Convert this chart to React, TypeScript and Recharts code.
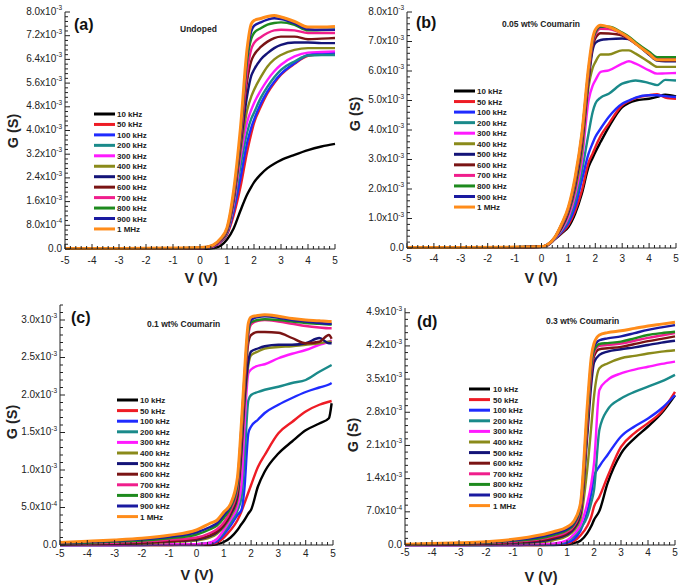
import React from 'react';
import { LineChart, Line, XAxis, YAxis } from 'recharts';

// ---------- shared ----------
const seriesNames = ['10 kHz', '50 kHz', '100 kHz', '200 kHz', '300 kHz', '400 kHz', '500 kHz', '600 kHz', '700 kHz', '800 kHz', '900 kHz', '1 MHz'];
const seriesColors = ['#000000', '#ee1c25', '#1f2bff', '#1a8a8a', '#ff1aff', '#8a8a1a', '#141478', '#7a1414', '#f01e8c', '#1e8a1e', '#1a1aa0', '#ff8c1a'];
const xMajorTicks = [-5, -4, -3, -2, -1, 0, 1, 2, 3, 4, 5];
const xTickLabels = ['-5', '-4', '-3', '-2', '-1', '0', '1', '2', '3', '4', '5'];

// ---------- panel (a) Undoped, G in mS ----------
const voltsA = [-5, -3, -1, 0, 0.25, 0.5, 0.75, 1, 1.25, 1.5, 1.75, 1.9, 2, 2.25, 2.5, 2.75, 3, 3.5, 4, 4.5, 5];
const condA = [
  [0.01, 0.01, 0.01, 0.01, 0.01, 0.03, 0.1, 0.32, 0.7, 1.3, 1.85, 2.1, 2.25, 2.52, 2.73, 2.88, 3.0, 3.18, 3.34, 3.46, 3.55],
  [0.01, 0.01, 0.02, 0.03, 0.04, 0.08, 0.22, 0.48, 1.15, 2.1, 3.3, 3.9, 4.25, 4.8, 5.26, 5.6, 5.88, 6.25, 6.52, 6.58, 6.61],
  [0.01, 0.01, 0.02, 0.03, 0.04, 0.09, 0.24, 0.52, 1.3, 2.4, 3.6, 4.1, 4.36, 4.9, 5.32, 5.65, 5.91, 6.27, 6.55, 6.6, 6.63],
  [0.01, 0.01, 0.02, 0.03, 0.05, 0.1, 0.25, 0.55, 1.45, 2.8, 3.95, 4.4, 4.6, 5.1, 5.48, 5.8, 6.05, 6.33, 6.53, 6.55, 6.55],
  [0.01, 0.01, 0.02, 0.03, 0.05, 0.1, 0.26, 0.57, 1.55, 3.1, 4.3, 4.7, 4.92, 5.35, 5.71, 6.0, 6.22, 6.5, 6.63, 6.65, 6.67],
  [0.01, 0.01, 0.02, 0.03, 0.05, 0.11, 0.27, 0.59, 1.65, 3.3, 4.7, 5.15, 5.37, 5.8, 6.16, 6.4, 6.55, 6.72, 6.78, 6.78, 6.78],
  [0.01, 0.01, 0.02, 0.03, 0.05, 0.11, 0.28, 0.61, 1.7, 3.5, 5.2, 5.85, 6.05, 6.4, 6.61, 6.78, 6.89, 6.97, 6.97, 6.95, 6.95],
  [0.01, 0.01, 0.02, 0.03, 0.06, 0.12, 0.29, 0.63, 1.75, 3.6, 5.7, 6.35, 6.55, 6.82, 7.0, 7.12, 7.17, 7.17, 7.08, 7.1, 7.12],
  [0.01, 0.01, 0.02, 0.03, 0.06, 0.12, 0.3, 0.65, 1.8, 3.7, 6.0, 6.75, 6.95, 7.15, 7.29, 7.38, 7.4, 7.38, 7.29, 7.29, 7.29],
  [0.01, 0.01, 0.02, 0.04, 0.06, 0.13, 0.31, 0.67, 1.85, 3.8, 6.4, 7.1, 7.29, 7.45, 7.57, 7.63, 7.65, 7.57, 7.38, 7.39, 7.4],
  [0.01, 0.01, 0.02, 0.04, 0.07, 0.13, 0.32, 0.69, 1.9, 3.9, 6.6, 7.35, 7.53, 7.65, 7.74, 7.79, 7.76, 7.62, 7.42, 7.4, 7.4],
  [0.02, 0.02, 0.03, 0.05, 0.07, 0.14, 0.34, 0.72, 2.0, 4.1, 6.8, 7.6, 7.71, 7.78, 7.85, 7.88, 7.83, 7.68, 7.49, 7.49, 7.51],
];
const yTicksA = [0, 0.8, 1.6, 2.4, 3.2, 4.0, 4.8, 5.6, 6.4, 7.2, 8.0];
const yLabelsA = ['0.0', '8.0x10^-4', '1.6x10^-3', '2.4x10^-3', '3.2x10^-3', '4.0x10^-3', '4.8x10^-3', '5.6x10^-3', '6.4x10^-3', '7.2x10^-3', '8.0x10^-3'];

// ---------- panel (b) 0.05 wt% Coumarin ----------
const voltsB = [-5, -3, -1, 0, 0.2, 0.5, 0.75, 1, 1.25, 1.5, 1.75, 1.9, 2, 2.2, 2.5, 3, 3.25, 3.5, 4, 4.3, 4.6, 5];
const condB = [
  [0.01, 0.01, 0.02, 0.04, 0.08, 0.3, 0.5, 0.71, 1.16, 1.84, 2.75, 3.05, 3.25, 3.6, 4.1, 4.78, 4.92, 5.0, 5.06, 5.12, 5.2, 5.14],
  [0.01, 0.01, 0.02, 0.04, 0.08, 0.31, 0.52, 0.78, 1.25, 1.95, 2.9, 3.2, 3.42, 3.8, 4.21, 4.84, 4.98, 5.08, 5.18, 5.21, 5.1, 5.06],
  [0.01, 0.01, 0.02, 0.04, 0.08, 0.32, 0.55, 0.85, 1.4, 2.3, 3.2, 3.55, 3.76, 4.05, 4.44, 4.89, 5.0, 5.1, 5.18, 5.18, 5.15, 5.12],
  [0.01, 0.01, 0.02, 0.04, 0.09, 0.33, 0.58, 0.95, 1.6, 2.6, 3.88, 4.6, 4.89, 5.1, 5.23, 5.57, 5.64, 5.68, 5.59, 5.52, 5.7, 5.68],
  [0.01, 0.01, 0.02, 0.04, 0.09, 0.34, 0.62, 1.05, 1.8, 2.95, 5.0, 5.5, 5.68, 5.97, 6.02, 6.25, 6.33, 6.25, 6.02, 5.91, 5.92, 5.93],
  [0.01, 0.01, 0.02, 0.04, 0.09, 0.35, 0.66, 1.15, 1.95, 3.2, 5.46, 6.1, 6.3, 6.56, 6.56, 6.7, 6.7, 6.59, 6.3, 6.14, 6.14, 6.14],
  [0.01, 0.01, 0.02, 0.05, 0.1, 0.35, 0.7, 1.22, 2.1, 3.5, 5.7, 6.7, 6.95, 7.05, 7.08, 7.1, 7.08, 6.93, 6.55, 6.35, 6.33, 6.33],
  [0.01, 0.01, 0.02, 0.05, 0.1, 0.36, 0.74, 1.28, 2.2, 3.6, 5.8, 6.85, 7.1, 7.28, 7.27, 7.2, 7.08, 6.92, 6.58, 6.38, 6.36, 6.36],
  [0.01, 0.01, 0.02, 0.05, 0.1, 0.36, 0.77, 1.3, 2.25, 3.7, 5.9, 6.95, 7.22, 7.43, 7.42, 7.25, 7.1, 6.93, 6.6, 6.4, 6.4, 6.4],
  [0.02, 0.02, 0.03, 0.05, 0.1, 0.37, 0.8, 1.34, 2.3, 3.8, 6.0, 7.0, 7.3, 7.5, 7.5, 7.3, 7.16, 6.98, 6.65, 6.47, 6.47, 6.47],
  [0.02, 0.02, 0.03, 0.05, 0.1, 0.37, 0.81, 1.36, 2.35, 3.85, 6.05, 7.02, 7.35, 7.52, 7.48, 7.27, 7.12, 6.93, 6.6, 6.4, 6.4, 6.4],
  [0.02, 0.02, 0.03, 0.05, 0.1, 0.37, 0.82, 1.39, 2.4, 3.88, 6.14, 7.1, 7.4, 7.55, 7.49, 7.27, 7.12, 6.93, 6.59, 6.38, 6.38, 6.38],
];
const yTicksB = [0, 1, 2, 3, 4, 5, 6, 7, 8];
const yLabelsB = ['0.0', '1.0x10^-3', '2.0x10^-3', '3.0x10^-3', '4.0x10^-3', '5.0x10^-3', '6.0x10^-3', '7.0x10^-3', '8.0x10^-3'];

// ---------- panel (c) 0.1 wt% Coumarin ----------
const voltsC = [-5, -4, -3, -2, -1, 0, 0.5, 0.75, 1, 1.25, 1.5, 1.65, 1.75, 1.9, 2, 2.25, 2.5, 3, 3.5, 4, 4.5, 4.85, 4.95];
const condC = [
  [0, 0, 0, 0, 0, 0, 0, 0.01, 0.04, 0.1, 0.2, 0.28, 0.33, 0.42, 0.47, 0.78, 0.98, 1.22, 1.38, 1.53, 1.62, 1.69, 1.89],
  [0, 0, 0, 0, 0, 0.01, 0.01, 0.03, 0.1, 0.2, 0.33, 0.45, 0.55, 0.7, 0.8, 1.04, 1.2, 1.49, 1.64, 1.78, 1.87, 1.91, 1.92],
  [0, 0, 0, 0, 0.01, 0.01, 0.02, 0.05, 0.14, 0.26, 0.4, 0.47, 0.73, 1.49, 1.58, 1.67, 1.76, 1.87, 1.96, 2.04, 2.1, 2.14, 2.16],
  [0, 0, 0, 0.01, 0.01, 0.01, 0.03, 0.07, 0.17, 0.3, 0.46, 0.64, 1.09, 1.93, 2.0, 2.04, 2.07, 2.11, 2.16, 2.2, 2.31, 2.38, 2.4],
  [0, 0, 0, 0.01, 0.01, 0.01, 0.03, 0.08, 0.2, 0.34, 0.52, 0.82, 1.53, 2.29, 2.34, 2.39, 2.41, 2.49, 2.55, 2.6, 2.67, 2.71, 2.73],
  [0.01, 0.01, 0.015, 0.02, 0.04, 0.06, 0.1, 0.15, 0.24, 0.38, 0.6, 1.2, 1.8, 2.4, 2.53, 2.58, 2.62, 2.64, 2.65, 2.67, 2.69, 2.71, 2.71],
  [0.01, 0.015, 0.02, 0.03, 0.05, 0.07, 0.12, 0.17, 0.26, 0.41, 0.65, 1.3, 1.9, 2.45, 2.58, 2.62, 2.65, 2.67, 2.67, 2.69, 2.76, 2.69, 2.69],
  [0.01, 0.015, 0.02, 0.03, 0.05, 0.08, 0.13, 0.18, 0.27, 0.43, 0.7, 1.4, 2.0, 2.7, 2.8, 2.84, 2.84, 2.83, 2.76, 2.69, 2.71, 2.8, 2.75],
  [0.015, 0.02, 0.03, 0.045, 0.07, 0.1, 0.16, 0.21, 0.3, 0.46, 0.75, 1.5, 2.1, 2.8, 2.94, 2.99, 3.0, 2.98, 2.95, 2.92, 2.9, 2.89, 2.89],
  [0.02, 0.03, 0.045, 0.06, 0.09, 0.14, 0.21, 0.26, 0.36, 0.5, 0.8, 1.55, 2.15, 2.85, 2.97, 3.0, 3.01, 3.0, 2.98, 2.96, 2.95, 2.94, 2.94],
  [0.03, 0.04, 0.055, 0.075, 0.11, 0.17, 0.24, 0.29, 0.4, 0.53, 0.85, 1.6, 2.2, 2.9, 3.0, 3.04, 3.05, 3.03, 3.0, 2.98, 2.96, 2.95, 2.95],
  [0.035, 0.05, 0.067, 0.09, 0.13, 0.2, 0.29, 0.33, 0.44, 0.55, 0.9, 1.65, 2.25, 2.96, 3.04, 3.06, 3.07, 3.05, 3.02, 3.0, 2.99, 2.98, 2.98],
];
const yTicksC = [0, 0.5, 1.0, 1.5, 2.0, 2.5, 3.0];
const yLabelsC = ['0.0', '5.0x10^-4', '1.0x10^-3', '1.5x10^-3', '2.0x10^-3', '2.5x10^-3', '3.0x10^-3'];

// ---------- panel (d) 0.3 wt% Coumarin ----------
const voltsD = [-5, -4, -3, -2, -1, 0, 0.5, 1, 1.25, 1.5, 1.75, 1.9, 2, 2.2, 2.5, 3, 3.5, 4, 4.5, 5];
const condD = [
  [0, 0, 0, 0, 0, 0, 0, 0.01, 0.04, 0.09, 0.25, 0.4, 0.53, 0.72, 1.3, 1.93, 2.25, 2.5, 2.78, 3.16],
  [0, 0, 0, 0, 0, 0, 0.01, 0.03, 0.08, 0.2, 0.4, 0.6, 0.81, 1.02, 1.44, 2.07, 2.36, 2.57, 2.81, 3.23],
  [0, 0, 0, 0, 0, 0.01, 0.01, 0.05, 0.12, 0.3, 0.7, 1.1, 1.44, 1.66, 1.9, 2.29, 2.5, 2.67, 2.88, 3.16],
  [0, 0, 0, 0, 0.01, 0.01, 0.02, 0.08, 0.18, 0.35, 0.6, 0.9, 1.16, 2.43, 2.85, 3.09, 3.23, 3.34, 3.45, 3.59],
  [0, 0, 0, 0.01, 0.01, 0.02, 0.03, 0.1, 0.22, 0.42, 0.88, 1.3, 1.72, 3.27, 3.48, 3.62, 3.7, 3.76, 3.82, 3.87],
  [0.005, 0.01, 0.01, 0.02, 0.04, 0.06, 0.1, 0.19, 0.3, 0.55, 1.6, 2.5, 3.13, 3.73, 3.83, 3.94, 3.99, 4.04, 4.08, 4.11],
  [0.01, 0.01, 0.02, 0.03, 0.05, 0.08, 0.13, 0.22, 0.34, 0.65, 2.3, 3.4, 3.85, 4.01, 4.08, 4.13, 4.17, 4.22, 4.27, 4.31],
  [0.01, 0.01, 0.02, 0.03, 0.06, 0.1, 0.15, 0.25, 0.37, 0.7, 2.45, 3.6, 3.98, 4.13, 4.15, 4.18, 4.24, 4.3, 4.35, 4.4],
  [0.01, 0.015, 0.025, 0.04, 0.07, 0.12, 0.18, 0.28, 0.4, 0.75, 2.55, 3.7, 4.05, 4.2, 4.22, 4.25, 4.31, 4.37, 4.42, 4.47],
  [0.01, 0.02, 0.03, 0.05, 0.09, 0.14, 0.21, 0.31, 0.43, 0.8, 2.65, 3.78, 4.1, 4.24, 4.26, 4.29, 4.36, 4.43, 4.47, 4.5],
  [0.01, 0.02, 0.035, 0.055, 0.1, 0.17, 0.24, 0.34, 0.46, 0.85, 2.8, 3.88, 4.18, 4.32, 4.36, 4.4, 4.47, 4.54, 4.59, 4.64],
  [0.014, 0.03, 0.045, 0.07, 0.12, 0.21, 0.28, 0.38, 0.5, 0.88, 2.92, 3.97, 4.25, 4.43, 4.48, 4.52, 4.57, 4.62, 4.66, 4.7],
];
const yTicksD = [0, 0.7, 1.4, 2.1, 2.8, 3.5, 4.2, 4.9];
const yLabelsD = ['0.0', '7.0x10^-4', '1.4x10^-3', '2.1x10^-3', '2.8x10^-3', '3.5x10^-3', '4.2x10^-3', '4.9x10^-3'];

const FONT = '"Liberation Sans", Arial, sans-serif';
const AX = 60; // chart-internal x of the plot's left edge
const TOPM = 10; // chart-internal y of the plot's top edge

type PanelCfg = {
  tag: string; subtitle: string;
  volts: number[]; cond: number[][]; yTicks: number[]; yLabels: string[]; yMax: number;
  plotLeft: number; plotTop: number; plotW: number; plotH: number; xLabelDy: number;
  tagX: number; tagY: number; subX: number; subY: number;
  gX: number; gY: number; vX: number; vY: number;
  legLineX: number; legTextX: number; legY0: number; legDy: number;
};

const panels: PanelCfg[] = [
  { tag: '(a)', subtitle: 'Undoped', volts: voltsA, cond: condA, yTicks: yTicksA, yLabels: yLabelsA, yMax: 8,
    plotLeft: 65, plotTop: 12, plotW: 270, plotH: 237, xLabelDy: 14.5,
    tagX: 74, tagY: 30, subX: 180, subY: 32, gX: 13, gY: 131, vX: 201, vY: 283,
    legLineX: 94, legTextX: 117, legY0: 114, legDy: 10.45 },
  { tag: '(b)', subtitle: '0.05 wt% Coumarin', volts: voltsB, cond: condB, yTicks: yTicksB, yLabels: yLabelsB, yMax: 8,
    plotLeft: 407, plotTop: 12, plotW: 269, plotH: 236, xLabelDy: 13.5,
    tagX: 416, tagY: 28, subX: 502, subY: 27, gX: 355, gY: 114, vX: 541, vY: 283,
    legLineX: 454, legTextX: 477, legY0: 91, legDy: 10.55 },
  { tag: '(c)', subtitle: '0.1 wt% Coumarin', volts: voltsC, cond: condC, yTicks: yTicksC, yLabels: yLabelsC, yMax: 3.2,
    plotLeft: 60, plotTop: 305, plotW: 273, plotH: 240, xLabelDy: 12,
    tagX: 71, tagY: 323, subX: 147, subY: 327, gX: 12, gY: 422, vX: 197, vY: 580,
    legLineX: 117, legTextX: 140, legY0: 400, legDy: 10.6 },
  { tag: '(d)', subtitle: '0.3 wt% Coumarin', volts: voltsD, cond: condD, yTicks: yTicksD, yLabels: yLabelsD, yMax: 5.0,
    plotLeft: 405, plotTop: 308, plotW: 270, plotH: 237, xLabelDy: 11,
    tagX: 417, tagY: 327, subX: 546, subY: 324, gX: 353, gY: 435, vX: 541, vY: 582,
    legLineX: 469, legTextX: 493, legY0: 389, legDy: 10.6 },
];

// tick positions (majors + minors)
const xTicksAll: number[] = [];
for (let i = 0; i <= 50; i++) xTicksAll.push(Math.round((-5 + i * 0.2) * 10) / 10);

const yTicksWithMinor = (majors: number[], yMax: number) => {
  const step = majors[1] - majors[0];
  const out: number[] = [];
  for (let v = 0; v <= yMax + 1e-9; v += step / 5) out.push(Math.round(v * 1e6) / 1e6);
  return out;
};

const findMajor = (v: number, majors: number[]) => majors.findIndex((m) => Math.abs(m - v) < 1e-6);

const makeYTick = (majors: number[], labels: string[]) => (props: any) => {
  const { y, payload } = props;
  const idx = findMajor(payload.value, majors);
  const major = idx >= 0;
  const label = major ? labels[idx] : '';
  const parts = label.split('^');
  return (
    <g>
      <line x1={AX} x2={AX + (major ? 5 : 3)} y1={y} y2={y} stroke="#222" strokeWidth={1} />
      {major && (
        <text x={AX - 3} y={y + 2.5} textAnchor="end" fontSize={10} fill="#222" fontFamily={FONT}>
          <tspan>{parts[0]}</tspan>
          {parts[1] && <tspan dy={-4.5} fontSize={6.5}>{parts[1]}</tspan>}
        </text>
      )}
    </g>
  );
};

const makeXTick = (plotBottom: number, labelDy: number) => (props: any) => {
  const { x, payload } = props;
  const idx = findMajor(payload.value, xMajorTicks);
  const major = idx >= 0;
  return (
    <g>
      <line x1={x} x2={x} y1={plotBottom} y2={plotBottom - (major ? 5 : 3)} stroke="#222" strokeWidth={1} />
      {major && (
        <text x={x} y={plotBottom + labelDy} textAnchor="middle" fontSize={10} fill="#222" fontFamily={FONT}>
          {xTickLabels[idx]}
        </text>
      )}
    </g>
  );
};

const Panel = ({ cfg }: { cfg: PanelCfg }) => {
  const rows = cfg.volts.map((v, i) => {
    const r: any = { V: v };
    cfg.cond.forEach((s, k) => { r['s' + k] = s[i]; });
    return r;
  });
  const plotBottom = TOPM + cfg.plotH;
  return (
    <div style={{ position: 'absolute', left: cfg.plotLeft - AX, top: cfg.plotTop - TOPM }}>
      <LineChart width={cfg.plotW + AX + 10} height={cfg.plotH + TOPM + 30} data={rows}
        margin={{ top: TOPM, right: 10, left: 0, bottom: 0 }}>
        <XAxis dataKey="V" type="number" domain={[-5, 5]} ticks={xTicksAll} interval={0}
          tick={makeXTick(plotBottom, cfg.xLabelDy)} tickLine={false} tickSize={0}
          axisLine={{ stroke: '#222', strokeWidth: 1 }} height={30} />
        <YAxis type="number" domain={[0, cfg.yMax]} ticks={yTicksWithMinor(cfg.yTicks, cfg.yMax)} interval={0}
          tick={makeYTick(cfg.yTicks, cfg.yLabels)} tickLine={false} tickSize={0}
          axisLine={{ stroke: '#222', strokeWidth: 1 }} width={AX} />
        <XAxis xAxisId="top" orientation="top" type="number" domain={[-5, 5]} tick={false} tickLine={false}
          axisLine={{ stroke: '#999', strokeWidth: 1 }} height={0} />
        <YAxis yAxisId="right" orientation="right" type="number" domain={[0, cfg.yMax]} tick={false} tickLine={false}
          axisLine={{ stroke: '#999', strokeWidth: 1 }} width={0} />
        {seriesNames.map((n, k) => (
          <Line key={n} dataKey={'s' + k} name={n} type="monotone" stroke={seriesColors[k]}
            strokeWidth={k === 11 ? 3 : 2.4} dot={false} isAnimationActive={false} />
        ))}
      </LineChart>
    </div>
  );
};

const Overlay = () => (
  <svg width={685} height={585} style={{ position: 'absolute', left: 0, top: 0, pointerEvents: 'none' }}>
    {panels.map((p) => (
      <g key={p.tag} fontFamily={FONT}>
        <text x={p.tagX} y={p.tagY} fontSize={16} fontWeight="bold" fill="#111">{p.tag}</text>
        <text x={p.subX} y={p.subY} fontSize={8.5} fontWeight="bold" fill="#222">{p.subtitle}</text>
        <text transform={`translate(${p.gX},${p.gY}) rotate(-90)`} textAnchor="middle" dy="0.35em"
          fontSize={14.5} fontWeight="bold" fill="#222">G (S)</text>
        <text x={p.vX} y={p.vY} textAnchor="middle" fontSize={14.5} fontWeight="bold" fill="#222">V (V)</text>
        {seriesNames.map((n, k) => {
          const y = p.legY0 + k * p.legDy;
          return (
            <g key={n}>
              <line x1={p.legLineX} x2={p.legLineX + 21} y1={y} y2={y} stroke={seriesColors[k]} strokeWidth={3} />
              <text x={p.legTextX} y={y + 3} fontSize={8} fontWeight="bold" fill="#222">{n}</text>
            </g>
          );
        })}
      </g>
    ))}
  </svg>
);

export default function App() {
  return (
    <div style={{ position: 'absolute', left: 0, top: 0, width: 685, height: 585, background: '#fff' }}>
      {panels.map((p) => <Panel key={p.tag} cfg={p} />)}
      <Overlay />
    </div>
  );
}
